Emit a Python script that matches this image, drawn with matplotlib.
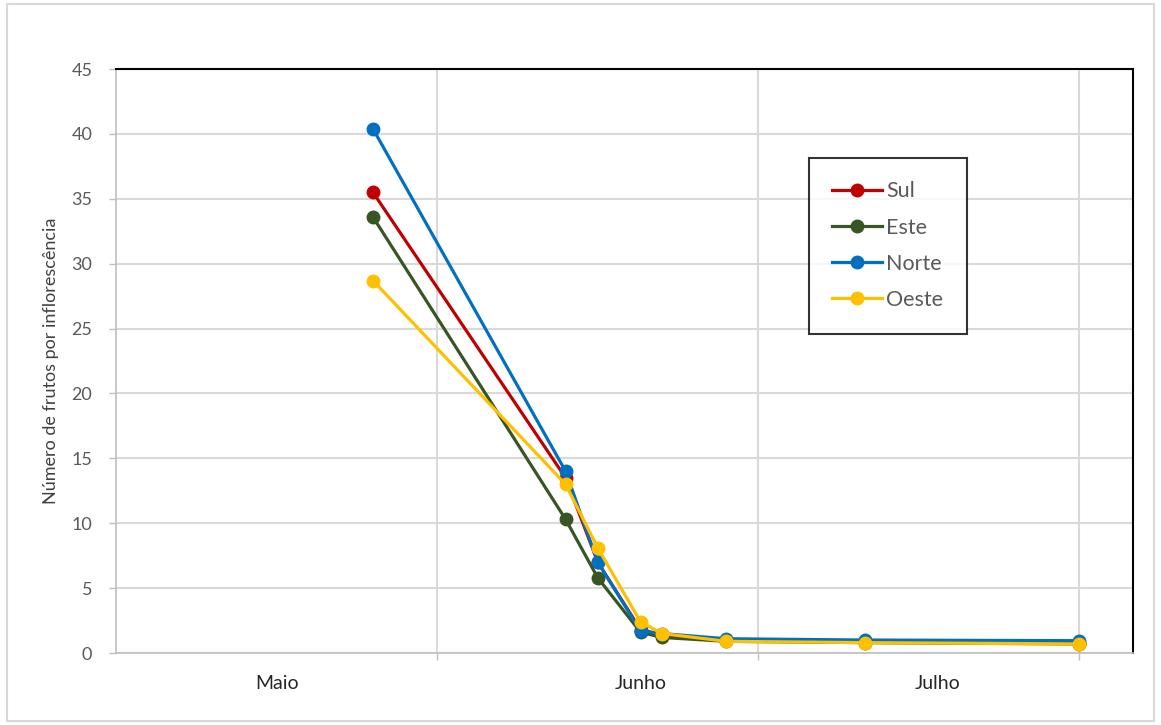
import matplotlib.pyplot as plt
from matplotlib.patches import Rectangle

plt.rcParams['font.family'] = ['Lato', 'DejaVu Sans']

# dias (eixo x), grelha a cada 30 dias
dias = [24, 42, 45, 49, 51, 57, 70, 90]
sul = [35.5, 13.5, 7.0, 1.8, 1.4, 1.0, 0.9, 0.8]
este = [33.6, 10.3, 5.8, 1.6, 1.2, 0.9, 0.8, 0.7]
norte = [40.4, 14.0, 7.0, 1.7, 1.5, 1.1, 1.0, 0.95]
oeste = [28.7, 13.0, 8.1, 2.4, 1.5, 0.9, 0.8, 0.7]

series = {"Sul": (sul, "#C00000"),
          "Este": (este, "#375623"),
          "Norte": (norte, "#0070C0"),
          "Oeste": (oeste, "#FFC000")}

meses = ["Maio", "Junho", "Julho"]
meses_pos = [15, 49, 76.7]

fig = plt.figure(figsize=(11.61, 7.25), dpi=100)
ax = fig.add_axes([0.0999, 0.0993, 0.876, 0.8055])

for nome, (vals, cor) in series.items():
    ax.plot(dias, vals, color=cor, lw=2.3, marker="o", ms=9, label=nome)

ax.set_xlim(0, 95)
ax.set_ylim(0, 45)
ax.set_yticks(range(0, 50, 5))
ax.set_xticks([30, 60, 90])
ax.set_xticklabels([])
ax.grid(True, color="#D9D9D9", lw=1.5)
ax.set_axisbelow(True)

for s in ["top", "right"]:
    ax.spines[s].set_color("black")
    ax.spines[s].set_linewidth(1.5)
for s in ["left", "bottom"]:
    ax.spines[s].set_color("#BFBFBF")
    ax.spines[s].set_linewidth(1.2)

ax.tick_params(axis="both", colors="#BFBFBF", labelcolor="#595959", labelsize=13, length=5, width=1)
ax.tick_params(axis="y", pad=12)

for m, p in zip(meses, meses_pos):
    ax.text(p, -1.7, m, ha="center", va="top", fontsize=14, color="#262626")

ax.set_ylabel("Número de frutos por inflorescência", fontsize=13, color="#404040", labelpad=9)

leg = ax.legend(loc="upper left", bbox_to_anchor=(0.681, 0.848), fontsize=15.5, frameon=True,
                fancybox=False, edgecolor="black", handlelength=2.3, labelspacing=0.75,
                borderpad=1.1, handletextpad=0.2, borderaxespad=0)
leg.get_frame().set_linewidth(1.5)
for t in leg.get_texts():
    t.set_color("#595959")

fig.patches.append(Rectangle((0.006, 0.006), 0.988, 0.988, transform=fig.transFigure,
                             fill=False, edgecolor="#D9D9D9", lw=1.5))

fig.savefig("out.png", dpi=100)
